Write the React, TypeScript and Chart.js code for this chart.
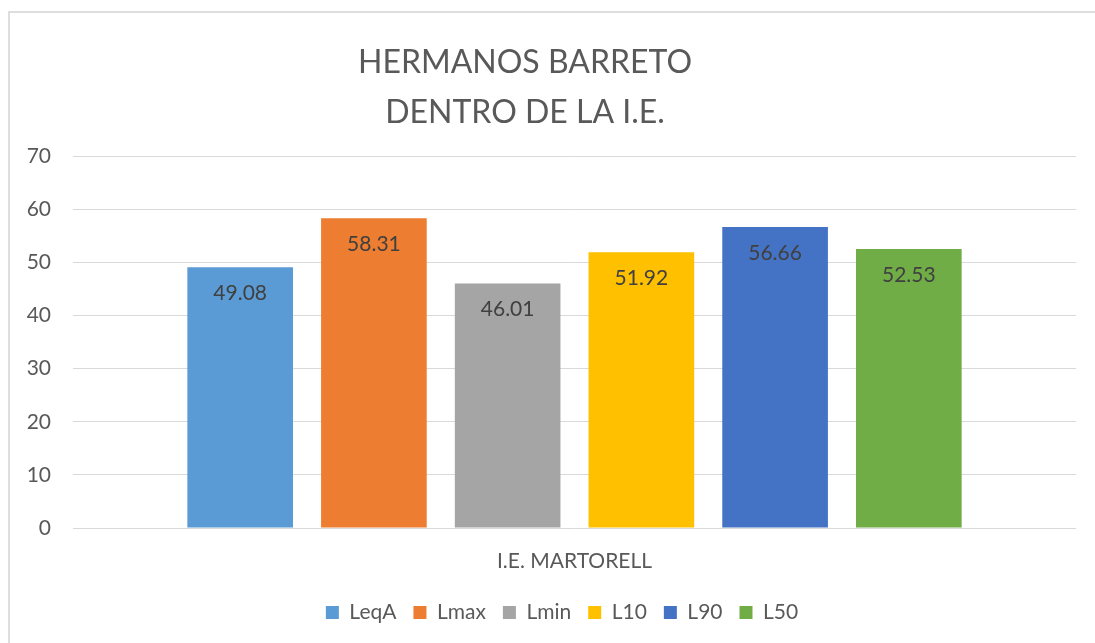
import React, { useEffect, useRef } from "react";
import { Chart, registerables } from "chart.js";

Chart.register(...registerables);

const categories = ["I.E. MARTORELL"];
const seriesNames = ["LeqA", "Lmax", "Lmin", "L10", "L90", "L50"];
const seriesValues = [49.08, 58.31, 46.01, 51.92, 56.66, 52.53];
const seriesColors = ["#5B9BD5", "#ED7D31", "#A5A5A5", "#FFC000", "#4472C4", "#70AD47"];
const titleLines = ["HERMANOS BARRETO", "DENTRO DE LA I.E."];
const yMin = 0;
const yMax = 70;
const yStep = 10;

const FONT = "Lato";

const valueLabelPlugin = {
  id: "valueLabels",
  afterDatasetsDraw(chart: any) {
    const ctx = chart.ctx;
    ctx.save();
    ctx.font = `21px ${FONT}`;
    ctx.fillStyle = "#404040";
    ctx.textAlign = "center";
    ctx.textBaseline = "middle";
    chart.data.datasets.forEach((ds: any, i: number) => {
      const meta = chart.getDatasetMeta(i);
      meta.data.forEach((el: any, j: number) => {
        const v = ds.data[j];
        ctx.fillText(Number(v).toFixed(2), el.x, el.y + 26);
      });
    });
    ctx.restore();
  },
};

const shiftPlugin = {
  id: "shiftBoxes",
  afterLayout(chart: any) {
    if (chart.legend) {
      chart.legend.left += 24;
      chart.legend.right += 24;
    }
    if (chart.titleBlock) {
      chart.titleBlock.left -= 13;
      chart.titleBlock.right -= 13;
    }
  },
};

export default function App() {
  const canvasRef = useRef<HTMLCanvasElement | null>(null);

  useEffect(() => {
    if (!canvasRef.current) return;
    const chart = new Chart(canvasRef.current, {
      type: "bar",
      data: {
        labels: categories,
        datasets: seriesNames.map((name, i) => ({
          label: name,
          data: [seriesValues[i]],
          backgroundColor: seriesColors[i],
          borderWidth: 0,
          categoryPercentage: 0.8,
          barPercentage: 0.79,
        })),
      },
      options: {
        responsive: false,
        animation: false,
        layout: { padding: { top: 10, left: 0, right: 19, bottom: 10 } },
        plugins: {
          title: {
            display: true,
            text: titleLines,
            color: "#595959",
            font: { family: FONT, size: 32, weight: "normal", lineHeight: 1.55 },
            padding: { top: 28, bottom: 19 },
          },
          legend: {
            position: "bottom",
            labels: {
              boxWidth: 13,
              boxHeight: 13,
              padding: 17,
              color: "#595959",
              font: { family: FONT, size: 21 },
            },
          },
          tooltip: { enabled: false },
        },
        scales: {
          x: {
            grid: { display: false },
            border: { display: false },
            ticks: {
              color: "#595959",
              font: { family: FONT, size: 21 },
              padding: 13,
            },
            afterFit(scale: any) {
              scale.height = 57;
            },
          },
          y: {
            min: yMin,
            max: yMax,
            border: { display: false },
            grid: { color: "#d9d9d9", lineWidth: 1, drawTicks: false },
            ticks: {
              stepSize: yStep,
              color: "#595959",
              font: { family: FONT, size: 21 },
              padding: 22,
            },
            afterFit(scale: any) {
              scale.width = 73;
            },
          },
        },
      },
      plugins: [valueLabelPlugin, shiftPlugin],
    });
    return () => chart.destroy();
  }, []);

  return (
    <div
      style={{
        position: "absolute",
        left: 0,
        top: 0,
        width: 1095,
        height: 643,
        overflow: "hidden",
        background: "#ffffff",
      }}
    >
      <div
        style={{
          position: "absolute",
          left: 8,
          top: 11,
          width: 1120,
          height: 660,
          border: "2px solid #dedede",
          boxSizing: "border-box",
        }}
      />
      <canvas
        ref={canvasRef}
        width={1095}
        height={643}
        style={{ position: "absolute", left: 0, top: 0, display: "block" }}
      />
    </div>
  );
}
